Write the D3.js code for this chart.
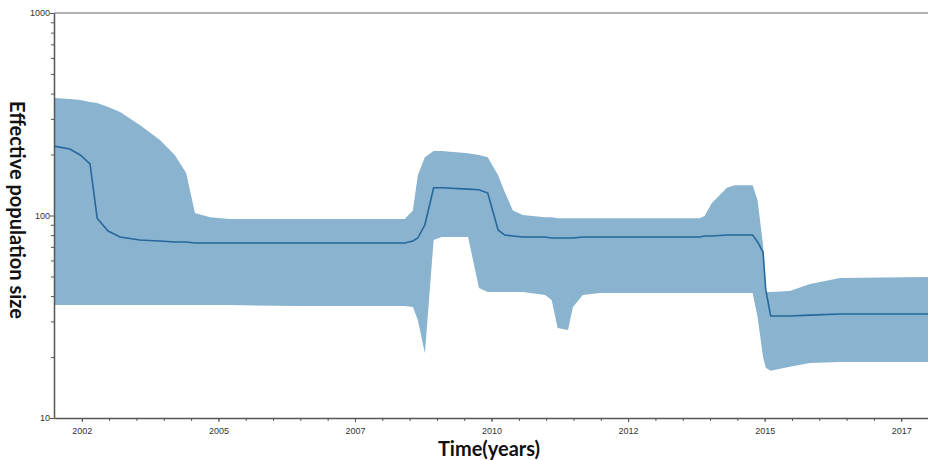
<!DOCTYPE html>
<html>
<head>
<meta charset="utf-8">
<script src="https://cdn.jsdelivr.net/npm/d3@7"></script>
<style>
  body { margin: 0; background: #fff; }
  svg { display: block; }
</style>
</head>
<body>
<svg width="928" height="460"></svg>
<script>
// Bayesian skyline reconstruction: median and 95% HPD band
const years = [2001.89, 2002.18, 2002.37, 2002.55, 2002.68, 2002.88, 2003.10, 2003.46, 2003.83, 2004.10,
  2004.31, 2004.47, 2004.75, 2005.11, 2006.39, 2008.31, 2008.46, 2008.55, 2008.68, 2008.84,
  2008.99, 2009.47, 2009.67, 2009.83, 2010.02, 2010.14, 2010.29, 2010.47, 2010.88, 2011.00,
  2011.11, 2011.30, 2011.39, 2011.57, 2011.88, 2013.71, 2013.80, 2013.93, 2014.21, 2014.35,
  2014.68, 2014.77, 2014.87, 2014.92, 2015.01, 2015.36, 2015.73, 2016.28, 2017.89]
const lower = [36.1, 36.1, 36.1, 36.1, 36.1, 36.1, 36.1, 36.1, 36.1, 36.1,
  36.1, 36.1, 36.1, 36.1, 35.7, 35.7, 35.3, 30.5, 20.9, 75.7,
  78.3, 78.3, 43.9, 41.9, 41.9, 41.9, 41.9, 41.9, 40.5, 38.3,
  27.8, 27.2, 35.3, 40.5, 41.4, 41.4, 41.4, 41.4, 41.4, 41.4,
  41.4, 31.5, 20.0, 17.7, 17.1, 17.9, 18.7, 18.9, 18.9]
const median = [220, 213, 199, 180, 97, 83.8, 78.3, 75.7, 74.8, 74.0,
  74.0, 73.1, 73.1, 73.1, 73.1, 73.1, 74.8, 77.4, 90, 137,
  137, 135, 134, 129, 84.8, 80.1, 79.2, 78.3, 78.3, 77.4,
  77.4, 77.4, 77.4, 78.3, 78.3, 78.3, 79.2, 79.2, 80.1, 80.1,
  80.1, 74, 66, 42.9, 31.9, 31.9, 32.2, 32.6, 32.6]
const upper = [380, 376, 372, 364, 359, 343, 324, 280, 236, 199,
  162, 103, 98, 96, 96, 96, 106, 158, 194, 208,
  208, 203, 199, 194, 158, 131, 106, 100.6, 98, 98,
  97, 97, 97, 97, 97, 97, 99.4, 115, 137, 141,
  141, 119, 71.5, 41.9, 41.9, 42.4, 45.9, 49.1, 49.7]

const xTickValues = [2002.4, 2004.9, 2007.4, 2009.9, 2012.4, 2014.9, 2017.4]
const xTickLabels = ["2002", "2005", "2007", "2010", "2012", "2015", "2017"]
const yTickValues = [10, 100, 1000]
const yMinor = [20, 30, 40, 50, 60, 70, 80, 90, 200, 300, 400, 500, 600, 700, 800, 900]

const data = years.map((t, i) => ({t: t, lo: lower[i], med: median[i], hi: upper[i]}))

const margin = {left: 54, top: 13, right: 928, bottom: 418}
const svg = d3.select("svg")

const x = d3.scaleLinear()
  .domain([2001.89, 2017.89])
  .range([margin.left, margin.right])

const y = d3.scaleLog()
  .domain([10, 1000])
  .range([margin.bottom, margin.top])

// band
const area = d3.area()
  .x(d => x(d.t))
  .y0(d => y(d.lo))
  .y1(d => y(d.hi))

svg.append("path")
  .datum(data)
  .attr("fill", "#8ab3cf")
  .attr("d", area)

// median
const line = d3.line()
  .x(d => x(d.t))
  .y(d => y(d.med))

svg.append("path")
  .datum(data)
  .attr("fill", "none")
  .attr("stroke", "#27679c")
  .attr("stroke-width", 1.6)
  .attr("d", line)

// frame top line
svg.append("line")
  .attr("x1", margin.left).attr("x2", margin.right)
  .attr("y1", margin.top).attr("y2", margin.top)
  .attr("stroke", "#666").attr("stroke-width", 1)

const axisColor = "#555"

// x axis: minor ticks then major
const xMinor = d3.range(2002.4, 2017.9, 0.5)
const xaxis_minor = svg.append("g")
  .attr("transform", "translate(0," + margin.bottom + ")")
  .call(d3.axisBottom(x).tickValues(xMinor).tickSize(3).tickFormat(""))
const xaxis_group = svg.append("g")
  .attr("transform", "translate(0," + margin.bottom + ")")
  .call(d3.axisBottom(x).tickValues(xTickValues).tickSize(4).tickSizeOuter(0)
    .tickFormat((d, i) => xTickLabels[i]))
xaxis_minor.select(".domain").remove()
xaxis_group.select(".domain").attr("stroke", axisColor).attr("stroke-width", 1.5)
xaxis_group.selectAll("text")
  .attr("dy", "1.05em")
  .style("font-family", "Liberation Sans, Arial, sans-serif")
  .style("font-size", "9px")
  .style("fill", "#333")

// y axis
const yaxis_minor = svg.append("g")
  .attr("transform", "translate(" + margin.left + ",0)")
  .call(d3.axisLeft(y).tickValues(yMinor).tickSize(3).tickFormat(""))
yaxis_minor.select(".domain").remove()
const yaxis_group = svg.append("g")
  .attr("transform", "translate(" + margin.left + ",0)")
  .call(d3.axisLeft(y).tickValues(yTickValues).tickSize(4).tickSizeOuter(0).tickFormat(d3.format("d")))
yaxis_group.select(".domain").attr("stroke", axisColor).attr("stroke-width", 1.5)
svg.selectAll("g line").attr("stroke", axisColor)
yaxis_group.selectAll("text")
  .attr("x", -4)
  .style("font-family", "Liberation Sans, Arial, sans-serif")
  .style("font-size", "9px")
  .style("fill", "#333")

// titles
svg.append("text")
  .attr("x", 489)
  .attr("y", 456)
  .attr("text-anchor", "middle")
  .style("font-family", "Lato, sans-serif")
  .style("font-weight", "bold")
  .style("font-size", "20px")
  .style("fill", "#111")
  .text("Time(years)")

svg.append("text")
  .attr("transform", "translate(10,210) rotate(90)")
  .attr("text-anchor", "middle")
  .style("font-family", "Lato, sans-serif")
  .style("font-weight", "bold")
  .style("font-size", "20px")
  .style("fill", "#111")
  .text("Effective population size")
</script>
</body>
</html>
